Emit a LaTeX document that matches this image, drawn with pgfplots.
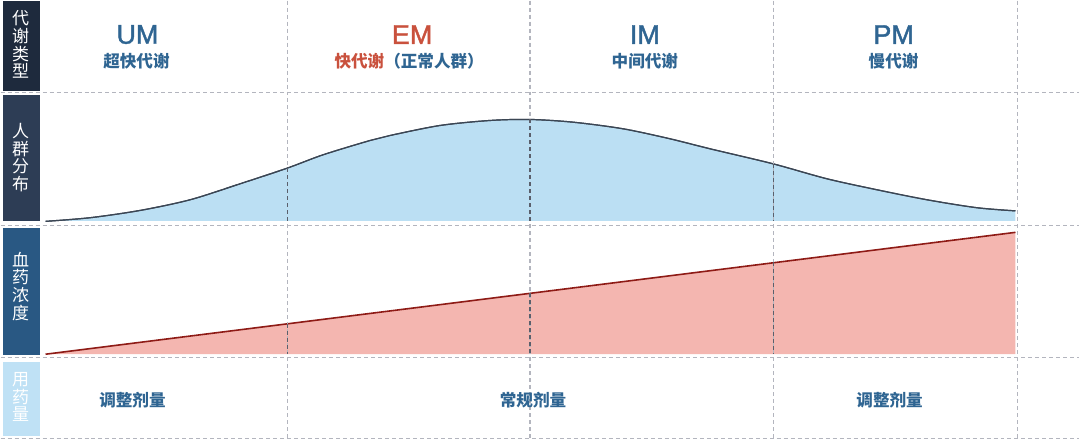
\documentclass[border=0pt]{standalone}
\usepackage{pgfplots}
\pgfplotsset{compat=1.18}
\usepgfplotslibrary{fillbetween}
\usepackage{fontspec}
\setmainfont{Liberation Sans}
\newfontfamily\latinsb{Liberation Sans}[FakeBold=1.5]
\newfontfamily\cjk{Noto Sans CJK SC}

\definecolor{umblue}{HTML}{2F6592}
\definecolor{emred}{HTML}{C9513D}
\definecolor{popfill}{HTML}{BBDFF3}
\definecolor{popline}{HTML}{3B4654}
\definecolor{concfill}{HTML}{F4B6B0}
\definecolor{concline}{HTML}{8E1B16}
\definecolor{gridgray}{HTML}{B3B5BE}
\definecolor{griddark}{HTML}{5A5F6B}
\definecolor{rowA}{HTML}{1E2A3D}
\definecolor{rowB}{HTML}{2D3D55}
\definecolor{rowC}{HTML}{295883}
\definecolor{rowD}{HTML}{BFE1F5}

% population distribution curve (pixel units, y downwards)
\pgfplotstableread{
x y
45 221
90 217.3
140 210
190 199.3
240 183.3
287 167.7
323 154.3
370 140
390 135
440 125
490 120
530 119
573 121.7
623 128.3
670 138.3
710 148.3
773 163.3
827 178.3
877 189.3
927 199.3
977 207.3
1016 210.5
}\popdata

\begin{document}
\begin{tikzpicture}
\begin{axis}[
    scale only axis,
    width=540pt, height=220pt,
    xmin=0, xmax=1080, ymin=0, ymax=440,
    y dir=reverse,
    hide axis,
    clip=false,
    ]
    \path (0,0) rectangle (1080,440);

    % left row labels
    \fill[rowA] (2,0) rectangle (39,90.5);
    \fill[rowB] (2,95) rectangle (39,221);
    \fill[rowC] (2,228) rectangle (39,355);
    \fill[rowD] (2,362) rectangle (39,436);
    \begin{scope}[every node/.style={font=\cjk\fontsize{8.5}{8.8}\selectfont, text=white, align=center}]
        \node at (20,44) {代\\谢\\类\\型};
        \node at (20,157) {人\\群\\分\\布};
        \node at (20,286) {血\\药\\浓\\度};
        \node at (20,397) {用\\药\\量};
    \end{scope}

    % population distribution
    \addplot[name path=pop, popline, line width=0.6pt, smooth] table {\popdata};
    \addplot[name path=base, draw=none] coordinates {(45,220.5) (1016,220.5)};
    \addplot[popfill] fill between[of=pop and base];
    \addplot[popline, line width=0.6pt, smooth] table {\popdata};

    % blood concentration
    \addplot[fill=concfill, draw=none] coordinates {(45,354) (1016,232) (1016,354)} -- cycle;
    \addplot[concline, line width=0.8pt] coordinates {(45,354) (1016,232)};

    % grid
    \begin{scope}[gridgray, line width=0.6pt, dash pattern=on 2pt off 1.5pt]
        \draw (0,92) -- (1080,92);
        \draw (0,225) -- (1080,225);
        \draw (0,357) -- (1080,357);
        \draw (0,438) -- (1080,438);
        \draw (287,0) -- (287,440);
        \draw (530,0) -- (530,440);
        \draw (774,0) -- (774,440);
        \draw (1018,0) -- (1018,440);
    \end{scope}
    \begin{scope}[griddark, line width=0.6pt, dash pattern=on 2pt off 1.5pt]
        \draw (287,168) -- (287,220.5);
        \draw (530,119) -- (530,220.5);
        \draw (774,163.5) -- (774,220.5);
        \draw (287,324) -- (287,354);
        \draw (530,293) -- (530,354);
        \draw (774,262) -- (774,354);
    \end{scope}

    % metabolism types
    \begin{scope}[every node/.style={font=\latinsb\fontsize{13.5}{15}\selectfont, text=umblue}]
        \node at (137,34) {UM};
        \node[text=emred] at (412,34) {EM};
        \node at (645,34) {IM};
        \node at (894,34) {PM};
    \end{scope}
    \begin{scope}[every node/.style={font=\cjk\bfseries\fontsize{8.3}{10}\selectfont, text=umblue}]
        \node at (136,61) {超快代谢};
        \node at (409,61) {\textcolor{emred}{快代谢}（正常人群）};
        \node at (645,61) {中间代谢};
        \node at (894,61) {慢代谢};
        \node at (132,400) {调整剂量};
        \node at (533,400) {常规剂量};
        \node at (890,400) {调整剂量};
    \end{scope}
\end{axis}
\end{tikzpicture}
\end{document}
